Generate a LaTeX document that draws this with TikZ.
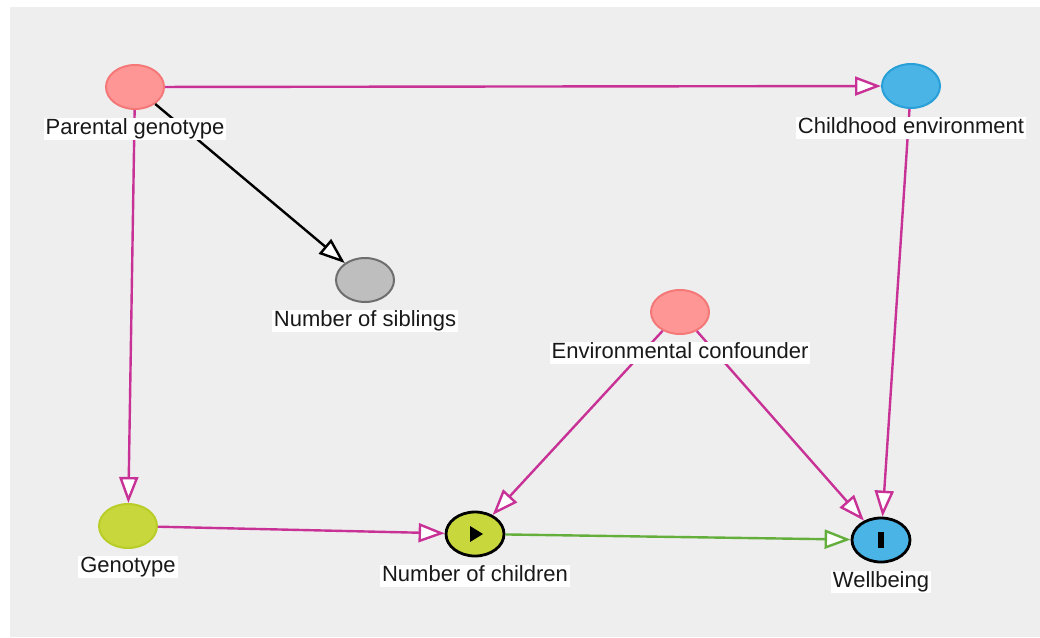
\documentclass[tikz,border=0pt]{standalone}
\usepackage{fontspec}
\setmainfont{Liberation Sans}
\usetikzlibrary{shapes.geometric,arrows.meta}
\definecolor{bg}{RGB}{238,238,238}
\definecolor{edgemag}{RGB}{200,50,150}
\definecolor{edgegreen}{RGB}{100,175,60}
\definecolor{adjfill}{RGB}{255,150,150}
\definecolor{adjdraw}{RGB}{245,120,120}
\definecolor{bluefill}{RGB}{75,180,230}
\definecolor{bluedraw}{RGB}{40,160,215}
\definecolor{yellowfill}{RGB}{200,216,60}
\definecolor{yellowdraw}{RGB}{185,205,40}
\definecolor{grayfill}{RGB}{190,190,190}
\definecolor{graydraw}{RGB}{110,110,110}
\definecolor{txt}{RGB}{25,25,25}
\begin{document}
\begin{tikzpicture}[x=1pt,y=-1pt,
  var/.style={ellipse, minimum width=58pt, minimum height=44pt, inner sep=0pt, line width=2pt},
  lbl/.style={fill=white, inner xsep=2pt, inner ysep=1pt, font=\fontsize{22}{24}\selectfont, text height=16pt, text depth=4.5pt, text=txt},
  arr/.style={line width=2.4pt, -{Triangle[length=26pt,width=19pt,fill=white]}},
]
\useasboundingbox (0,0) rectangle (1040,637);
\fill[bg] (10,7) rectangle (1040,637);

% variables
\node[var, fill=adjfill, draw=adjdraw] (pg) at (135,87) {};
\node[var, fill=bluefill, draw=bluedraw] (ce) at (911,86) {};
\node[var, fill=grayfill, draw=graydraw] (sib) at (365,280) {};
\node[var, fill=adjfill, draw=adjdraw] (ec) at (680,312) {};
\node[var, fill=yellowfill, draw=yellowdraw] (gen) at (128,526) {};
\node[var, fill=yellowfill, draw=black, line width=2.8pt] (noc) at (475,534) {};
\node[var, fill=bluefill, draw=black, line width=2.8pt] (wb) at (881,540) {};

% icons
\fill[black] ([shift={(-5,-8)}]noc.center) -- ([shift={(8,0)}]noc.center) -- ([shift={(-5,8)}]noc.center) -- cycle;
\fill[black] ([shift={(-3,-8)}]wb.center) rectangle ([shift={(3,8)}]wb.center);

% edges
\draw[arr, edgemag] (pg) -- (ce);
\draw[arr, black] (pg) -- (sib);
\draw[arr, edgemag] (pg) -- (gen);
\draw[arr, edgemag] (ce) -- (wb);
\draw[arr, edgemag] (ec) -- (noc);
\draw[arr, edgemag] (ec) -- (wb);
\draw[arr, edgemag] (gen) -- (noc);
\draw[arr, edgegreen] (noc) -- (wb);

% labels
\node[lbl] (pgl) at (135,129) {Parental genotype};
\node[lbl] (cel) at (911,128) {Childhood environment};
\node[lbl] (sibl) at (365,321) {Number of siblings};
\node[lbl] (ecl) at (680,353) {Environmental confounder};
\node[lbl] (genl) at (128,567) {Genotype};
\node[lbl] (nocl) at (475,576) {Number of children};
\node[lbl] (wbl) at (881,582) {Wellbeing};
\end{tikzpicture}
\end{document}
